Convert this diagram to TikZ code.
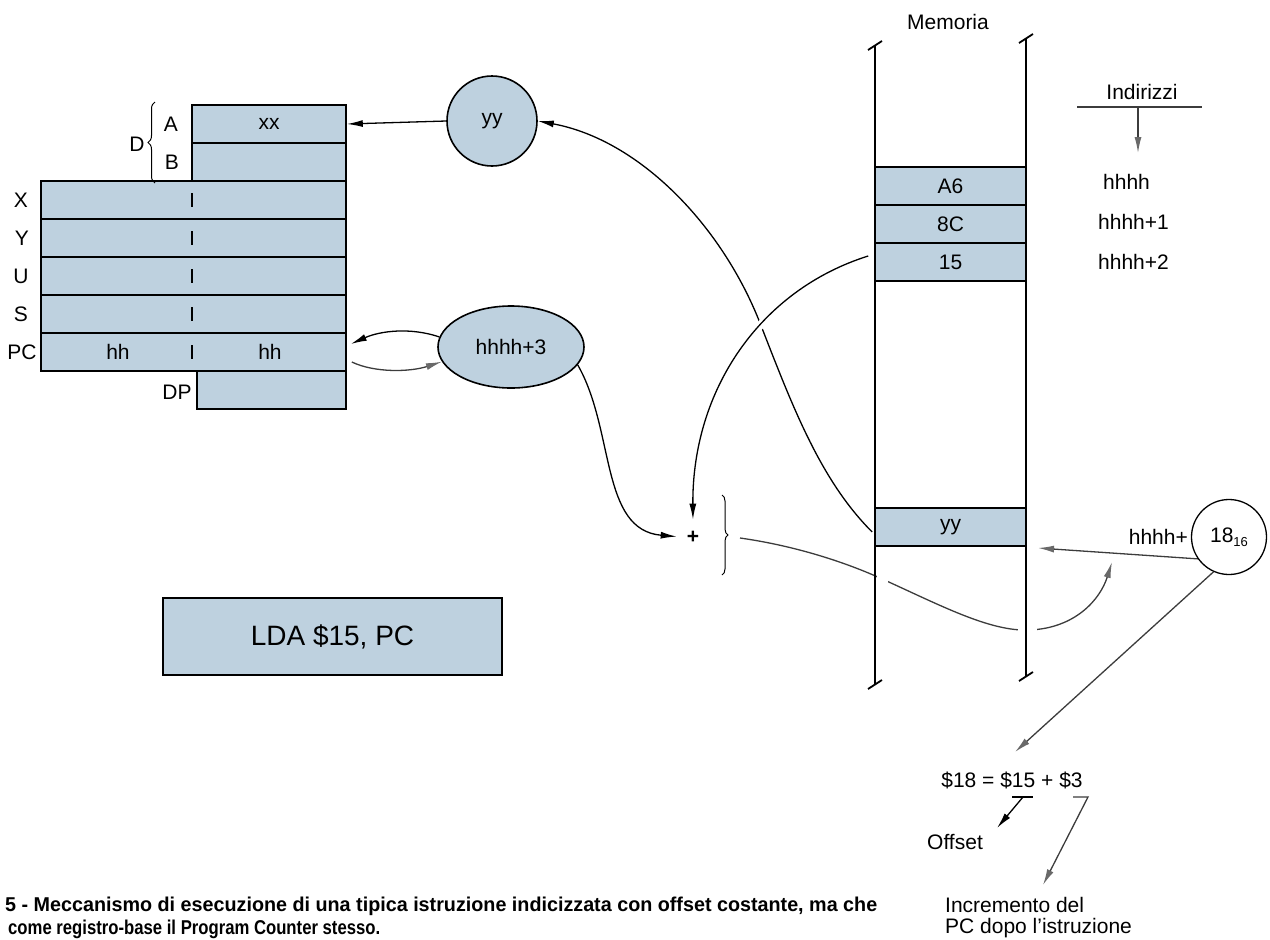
\documentclass[tikz,border=0pt]{standalone}
\usepackage{fontspec}
\setmainfont{Liberation Sans}
\usetikzlibrary{arrows.meta,decorations.pathreplacing,shapes.geometric,calc}
\pgfdeclarelayer{background}
\pgfsetlayers{background,main}
\definecolor{boxblue}{RGB}{190,209,223}
\definecolor{arrgray}{RGB}{105,105,105}
\definecolor{lngray}{RGB}{60,60,60}
\begin{document}
\begin{tikzpicture}[x=1pt,y=-1pt,
  every node/.style={font=\fontsize{21}{21}\selectfont, inner sep=0pt},
  reg/.style={draw=black, line width=1.6pt, fill=boxblue, minimum height=38pt},
  blk/.style={draw=black, line width=1.3pt, -{Latex[length=16pt,width=7pt]}},
  gry/.style={draw=lngray, line width=1.3pt, -{Latex[length=16pt,width=7pt,fill=arrgray,color=arrgray]}},
  thinline/.style={line width=1.2pt},
  memline/.style={line width=1.8pt},
  bracestyle/.style={line width=1pt, decorate, decoration={brace, amplitude=7pt}},
  captext/.style={anchor=base west, font=\fontsize{20}{20}\selectfont\bfseries},
]
\useasboundingbox (0,0) rectangle (1270,940);

% ---------------- registers
\node[reg, minimum width=154pt] (rA) at (269,124) {xx};
\node[reg, minimum width=154pt] (rB) at (269,162) {};
\node[reg, minimum width=305pt] (rX) at (193.5,200) {};
\node[reg, minimum width=305pt] (rY) at (193.5,238) {};
\node[reg, minimum width=305pt] (rU) at (193.5,276) {};
\node[reg, minimum width=305pt] (rS) at (193.5,314) {};
\node[reg, minimum width=305pt] (rPC) at (193.5,352) {};
\node[reg, minimum width=149pt] (rDP) at (271.5,390) {};
\foreach \r in {rX,rY,rU,rS,rPC}
  \draw[thinline] ($(\r.center)+(-1.5,-7)$) -- ($(\r.center)+(-1.5,7)$);
\node (hhL) at (118,352) {hh};
\node (hhR) at (270,352) {hh};

\node (lX) at (21,200) {X};
\node (lY) at (22,238) {Y};
\node (lU) at (21,276) {U};
\node (lS) at (21,314) {S};
\node (lPC) at (22,352) {PC};
\node (lA) at (171,124) {A};
\node (lB) at (172,162) {B};
\node (lD) at (137,144) {D};
\node (lDP) at (177,392) {DP};
\draw[bracestyle] (155,183) -- (155,102);

% ---------------- circles
\node[circle, draw, line width=1.6pt, fill=boxblue, minimum size=90pt] (cyy) at (492,121) {yy};
\node[ellipse, draw, line width=1.6pt, fill=boxblue, minimum width=146pt, minimum height=82pt] (ehh) at (511,347) {hhhh+3};

\node[reg, minimum width=339pt, minimum height=77pt, font=\fontsize{28}{28}\selectfont] (lda) at (332.5,636.5) {LDA \$15, PC};

\node[inner sep=5pt] (plus) at (693,537) {\textbf{+}};
\draw[bracestyle, decoration={amplitude=6pt}] (722,495) -- (722,575);
\coordinate (bt) at (740,538);

% ---------------- memory
\node (mem) at (948,22) {Memoria};
\node[reg, minimum width=151pt] (mA6) at (950.5,186) {A6};
\node[reg, minimum width=151pt] (m8C) at (950.5,224) {8C};
\node[reg, minimum width=151pt] (m15) at (950.5,262) {15};
\node[reg, minimum width=151pt] (myy) at (950.5,527) {yy};

\node (ind) at (1142,92) {Indirizzi};
\coordinate (indL) at (1077,107);
\coordinate (indR) at (1202,107);
\coordinate (indT) at (1138,107);
\coordinate (indB) at (1138,153);
\node[anchor=west] (ad0) at (1103,182) {hhhh};
\node[anchor=west] (ad1) at (1098,222) {hhhh+1};
\node[anchor=west] (ad2) at (1098,262) {hhhh+2};

\node[circle, draw, line width=1.3pt, fill=white, minimum size=75pt] (c18) at (1229,537) {18\raisebox{-0.35ex}{\fontsize{13}{13}\selectfont 16}};
\node[anchor=east] (hp) at (1188,537) {hhhh+};
\coordinate (ytip) at (1038,548);
\coordinate (bend) at (1112,562);

% ---------------- equation
\node (eq) at (1012,780) {\$18 = \$15 + \$3};
\coordinate (u1) at (1012,797);
\coordinate (u2) at (1033,797);
\coordinate (um) at (1023,797);
\coordinate (offtip) at (997,828);
\coordinate (s1) at (1073,797);
\coordinate (s2) at (1088,797);
\coordinate (inctip) at (1043,885);
\coordinate (eqtip) at (1015,752);
\node (off) at (955,842) {Offset};
\node[anchor=west, align=left] (inc) at (945,918) {Incremento del\\PC dopo l’istruzione};

% ---------------- caption
\node[captext] (cap1) at (5,911)
  {\resizebox{872pt}{\height}{5 - Meccanismo di esecuzione di una tipica istruzione indicizzata con offset costante, ma che}};
\node[captext] (cap2) at (8,934)
  {\resizebox{372pt}{\height}{come registro-base il Program Counter stesso.}};

% ---------------- connectors
\begin{pgfonlayer}{background}
\draw[blk] (cyy.west) -- (rA.east);
\draw[blk] (ehh.172) .. controls (410,327) and (380,331) .. ($(rPC.east)+(4,-8)$);
\draw[gry] ($(rPC.east)+(5,10)$) .. controls (375,373) and (410,372) .. (ehh.192);
\draw[blk, shorten >=5pt] (ehh.-15) .. controls (615,430) and (600,530) .. (plus.west);
\draw[blk] ($(myy.west)+(-2,5)$) .. controls (820,480) and (792,405) .. (760,323)
   .. controls (722,226) and (640,140) .. (cyy.east);
\draw[blk, shorten >=6pt, preaction={draw=white, line width=8pt, -}]
   ($(m15.west)+(-6,-6)$) .. controls (760,290) and (692,390) .. (plus.north);
\draw[gry] (bt) .. controls (790,545) and (840,560) .. (880,578)
   .. controls (940,605) and (990,632) .. (1030,630)
   .. controls (1075,628) and (1100,600) .. (bend);
\draw[gry] (c18.215) -- (ytip);
\draw[gry] (c18.246) -- (eqtip);
\draw[gry, -] (indL) -- (indR);
\draw[gry] (indT) -- (indB);
\draw[thinline] (u1) -- (u2);
\draw[blk] (um) -- (offtip);
\draw[gry] (s1) -- (s2) -- (inctip);
\end{pgfonlayer}

% gaps where the curve passes behind the memory walls
\fill[white] (876.5,565) rectangle (888,595);
\fill[white] (1018,618) rectangle (1037,642);

% memory walls
\draw[memline] (875,45) -- (875,684);
\draw[memline] (1026,38) -- (1026,676);
\draw[memline] (868,50) -- (882,41);
\draw[memline] (1019,43) -- (1033,34);
\draw[memline] (868,689) -- (882,680);
\draw[memline] (1019,681) -- (1033,672);
\end{tikzpicture}
\end{document}
